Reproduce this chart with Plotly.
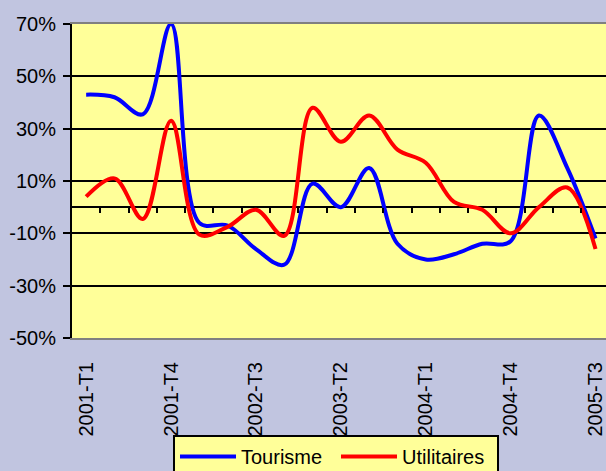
import plotly.graph_objects as go

quarters = [f"{y}-T{q}" for y in range(2001, 2006) for q in range(1, 5)][:19]
tick_labels = ["2001-T1", "2001-T4", "2002-T3", "2003-T2", "2004-T1", "2004-T4", "2005-T3"]
tourisme = [43, 42, 35.5, 70, -6, -7, -16, -22, 9, 0, 15, -14, -20, -18, -14, -13, 35, 15, -12]
utilitaires = [4, 11, -4.5, 33, -10.5, -7.5, -1, -11, 38, 25, 35, 22, 17, 2, -1, -10, 0, 7.5, -16]
y_ticks = [-50, -30, -10, 10, 30, 50, 70]

FONT = "Liberation Sans, Arial, sans-serif"
idx = list(range(len(quarters)))
tick_pos = [quarters.index(t) for t in tick_labels]

fig = go.Figure()
fig.add_trace(go.Scatter(x=idx, y=tourisme, name="Tourisme", mode="lines",
                         text=quarters, hoverinfo="text+y",
                         line=dict(color="#0000FF", width=4, shape="spline", smoothing=1)))
fig.add_trace(go.Scatter(x=idx, y=utilitaires, name="Utilitaires", mode="lines",
                         text=quarters, hoverinfo="text+y",
                         line=dict(color="#FF0000", width=4, shape="spline", smoothing=1)))
# invisible helper trace for the zero-line tick axis
fig.add_trace(go.Scatter(x=idx, y=tourisme, xaxis="x2", yaxis="y", mode="lines",
                         line=dict(width=0), opacity=0, showlegend=False, hoverinfo="skip"))

n = len(quarters)
xmax = n - 0.63  # the last category is partly cut by the right edge
fig.update_layout(
    template="none",
    width=606, height=471,
    margin=dict(l=72, r=0, t=24, b=133, pad=0),
    paper_bgcolor="rgb(193,197,224)",
    plot_bgcolor="#FFFF99",
    font=dict(family=FONT, size=20, color="black"),
    xaxis=dict(type="linear", range=[-0.5, xmax], automargin=False,
               tickmode="array", tickvals=tick_pos, ticktext=tick_labels,
               tickangle=-90, ticks="", ticklabelstandoff=14, ticklabeloverflow="allow",
               showline=True, linecolor="rgb(128,128,128)", linewidth=2, mirror=True,
               showgrid=False, zeroline=False, tickfont=dict(size=20)),
    xaxis2=dict(overlaying="x", anchor="free", position=50/120, range=[-0.5, xmax],
                automargin=False,
                tickmode="array", tickvals=[i + 0.5 for i in idx[:-1]],
                ticks="outside", ticklen=5, tickwidth=2, tickcolor="black",
                showticklabels=False, showline=False, showgrid=False, zeroline=False),
    yaxis=dict(range=[-50, 70], tickmode="array", tickvals=y_ticks, automargin=False,
               ticktext=[f"{v}%" for v in y_ticks],
               ticks="outside", ticklen=7, tickwidth=2, tickcolor="black",
               ticklabelstandoff=3,
               showline=True, linecolor="black", linewidth=2,
               showgrid=True, gridcolor="black", gridwidth=1.5,
               zeroline=True, zerolinecolor="black", zerolinewidth=2,
               tickfont=dict(size=20)),
    legend=dict(orientation="h", xref="container", yref="container",
                x=173 / 606, y=1 - 435 / 471,
                xanchor="left", yanchor="top", bgcolor="#FFFF99",
                bordercolor="black", borderwidth=2, font=dict(size=20),
                itemwidth=56, entrywidth=90),
    showlegend=True,
)
fig.write_html("out.html", config={"displayModeBar": False},
               post_script="document.body.style.margin='0';document.body.style.overflow='hidden';")
